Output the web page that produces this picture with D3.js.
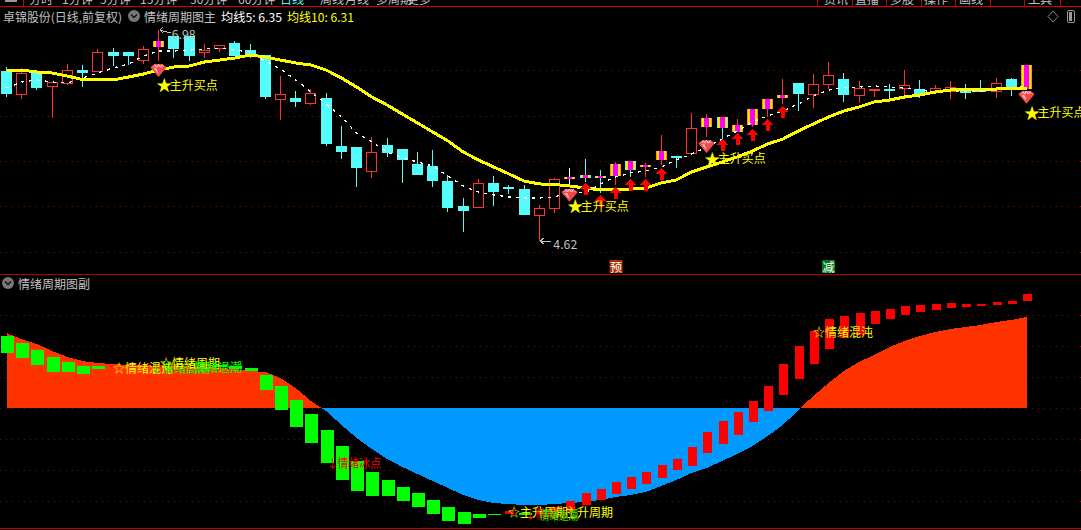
<!DOCTYPE html>
<html><head><meta charset="utf-8">
<script src="https://cdnjs.cloudflare.com/ajax/libs/d3/7.8.5/d3.min.js"></script>
<style>html,body{margin:0;padding:0;background:#000;overflow:hidden}svg{display:block}text{font-family:"Noto Sans CJK SC","Noto Sans",sans-serif}</style>
</head><body><svg id="c" width="1081" height="530"></svg>
<script>
const opens=[6.52,6.25,6.50,6.34,6.38,6.53,6.51,6.73,6.73,6.63,6.79,6.91,6.91,6.72,6.77,6.83,6.76,6.70,6.20,6.22,6.15,6.22,5.68,5.67,5.39,5.69,5.65,5.48,5.46,5.29,5.01,4.99,5.27,5.22,5.20,4.90,4.98,5.31,5.36,5.35,5.35,5.51,5.45,5.53,5.57,5.59,5.90,6.01,5.84,5.92,6.10,6.22,6.39,6.25,6.36,6.43,6.24,6.30,6.32,6.32,6.32,6.28,6.29,6.30,6.31,6.29,6.43,6.32];
const closes=[6.26,6.50,6.33,6.40,6.53,6.50,6.73,6.69,6.69,6.77,6.86,6.77,6.69,6.76,6.81,6.69,6.71,6.23,6.26,6.17,6.28,5.71,5.62,5.44,5.62,5.60,5.53,5.36,5.29,4.99,4.96,5.27,5.17,5.20,4.91,4.99,5.31,5.34,5.33,5.33,5.48,5.41,5.47,5.63,5.56,5.88,6.00,5.88,5.92,6.10,6.21,6.25,6.26,6.38,6.48,6.25,6.33,6.32,6.30,6.36,6.26,6.33,6.34,6.28,6.30,6.39,6.34,6.59];
const highs=[6.57,6.55,6.50,6.40,6.60,6.59,6.77,6.78,6.73,6.80,6.98,6.91,6.91,6.82,6.81,6.86,6.82,6.70,6.47,6.30,6.32,6.28,5.91,5.67,5.78,5.77,5.65,5.62,5.64,5.36,5.10,5.31,5.35,5.25,5.25,5.02,5.33,5.44,5.54,5.41,5.50,5.51,5.49,5.81,5.57,6.05,6.04,6.01,5.98,6.10,6.21,6.43,6.39,6.49,6.62,6.50,6.41,6.32,6.38,6.53,6.42,6.36,6.41,6.38,6.42,6.44,6.44,6.59];
const lows=[6.23,6.21,6.31,6.00,6.36,6.34,6.51,6.58,6.59,6.60,6.63,6.67,6.63,6.67,6.73,6.69,6.67,6.21,5.97,6.12,6.14,5.68,5.54,5.22,5.33,5.56,5.27,5.36,5.22,4.94,4.72,4.99,5.01,5.15,4.91,4.62,4.93,5.22,5.28,5.16,5.25,5.34,5.34,5.47,5.44,5.59,5.78,5.75,5.84,5.90,6.01,6.15,6.07,6.11,6.32,6.17,6.16,6.23,6.21,6.23,6.22,6.28,6.21,6.21,6.29,6.22,6.24,6.32];
const ma5=[6.331,6.398,6.421,6.398,6.387,6.443,6.499,6.555,6.599,6.689,6.745,6.745,6.756,6.767,6.778,6.756,6.734,6.633,6.544,6.421,6.286,6.152,6.007,5.828,5.727,5.616,5.549,5.504,5.459,5.347,5.235,5.168,5.135,5.113,5.101,5.101,5.113,5.168,5.157,5.258,5.336,5.381,5.403,5.448,5.526,5.593,5.672,5.761,5.850,5.951,6.018,6.074,6.152,6.242,6.309,6.331,6.342,6.354,6.342,6.331,6.309,6.286,6.298,6.298,6.298,6.309,6.331,6.354];
const ma10=[6.532,6.532,6.510,6.499,6.465,6.426,6.421,6.421,6.454,6.488,6.532,6.566,6.577,6.622,6.644,6.667,6.700,6.678,6.644,6.611,6.588,6.532,6.443,6.342,6.231,6.141,6.040,5.940,5.839,5.739,5.616,5.526,5.448,5.370,5.291,5.258,5.252,5.235,5.213,5.191,5.191,5.202,5.213,5.269,5.303,5.392,5.448,5.504,5.560,5.627,5.705,5.761,5.850,5.929,6.007,6.074,6.119,6.175,6.197,6.231,6.253,6.286,6.309,6.320,6.320,6.320,6.331,6.331];
const stripedDays=[10,37,38,39,40,41,42,43,46,47,48,49,50,51,67];
const whiteWickDays=[37];
const gemDays=[10,37,46,67];
const gemPrices=[6.53,5.135,5.68,6.23];
const buyLabelPrices=[6.376,5.02,5.55,6.063];
const arrowDays=[38,39,40,41,42,43,47,48,49,50,51];
const arrowPrices=[5.269,5.135,5.224,5.314,5.314,5.437,5.761,5.828,5.873,5.985,6.130];
const gridPrices=[6.53,6.02,5.515,5.01,4.50];
const gridMood=[-93,-62,-31,0,31,62,93];
const moodArea=[75,69,64,57,51,47,45,44,43,43,42,42,41,41,40,39,37,36,30,20,7,-3,-17,-30,-41,-51,-59,-66,-73,-80,-87,-92,-95,-96,-97,-97,-96,-95,-94,-92,-89,-87,-84,-78,-72,-65,-60,-53,-46,-38,-28,-17,-2,12,25,37,46,53,61,67,72,76,79,81,83,86,88,91];
const moodHigh=[72,65,58,51,46,42,42,42,42,43,43,44,44,44,43,42,40,33,22,8,-6,-22,-38,-53,-64,-72,-79,-85,-92,-99,-104,-106,-106,-103,-105,-103,-99,-93,-85,-81,-74,-69,-64,-57,-51,-39,-24,-13,-4,7,22,44,62,77,89,92,95,97,99,102,103,104,105,104,104,106,107,114];
const moodLow=[55,50,43,36,36,34,39,41,41,41,41,42,42,42,41,39,37,18,-2,-19,-35,-55,-72,-83,-88,-88,-93,-99,-106,-113,-116,-110,-107,-106,-107,-106,-105,-105,-97,-92,-86,-81,-76,-70,-62,-58,-45,-36,-27,-14,-3,13,29,44,59,70,73,84,89,93,96,98,100,101,102,103,104,107];
const moodFalling=[0,1,2,3,4,5,6,14,15,16,17,18,19,20,21,22,23,24,25,26,27,28,29,30,31,32,34];
const menuLeft=["分时","1分钟","5分钟","15分钟","30分钟","60分钟","日线","周线","月线","多周期","更多"];
const menuRight=["资讯","直播","多股","操作","画线","","工具",""];

const svg=d3.select("#c");
const W=1081;
const x=d3.scaleLinear().domain([0,67]).range([6.5,1026.5]);
const y=d3.scaleLinear().domain([6.98,4.62]).range([30,241]);
const m=d3.scaleLinear().domain([-120,120]).range([528,288]);
const px=v=>Math.floor(v)+0.5;
const RED="#ff3232",CY="#54fcfc",YEL="#ffff00";
const defs=svg.append("defs");
defs.append("clipPath").attr("id","menu").append("rect").attr("x",0).attr("y",0).attr("width",W).attr("height",5.5);
defs.append("clipPath").attr("id","pos").append("rect").attr("x",0).attr("y",0).attr("width",W).attr("height",m(0));
defs.append("clipPath").attr("id","neg").append("rect").attr("x",0).attr("y",m(0)).attr("width",W).attr("height",530-m(0));

// grids
function grid(scale,vals){
  const g=svg.append("g").attr("transform","translate(1081,0)")
    .call(d3.axisLeft(scale).tickValues(vals).tickSize(W).tickFormat(""));
  g.select(".domain").remove();
  g.selectAll("line").attr("stroke","#8c0000").attr("stroke-width",1).attr("stroke-dasharray","1,5").attr("shape-rendering","crispEdges");
}
grid(y,gridPrices);grid(m,gridMood);

// menu strip
const mg=svg.append("g").attr("clip-path","url(#menu)");
const menuLX=[29,62,100,140,190,238,280,320,345,376,407];
menuLeft.forEach((t,i)=>mg.append("text").attr("x",menuLX[i]).attr("y",4).attr("font-size",12).attr("fill",t==="日线"?"#54fcfc":"#c0c0c0").text(t));
const menuRX=[824,855,890,924,959,994,1028,1064];
menuRight.forEach((t,i)=>mg.append("text").attr("x",menuRX[i]).attr("y",4).attr("font-size",12).attr("fill","#c0c0c0").text(t));
svg.append("rect").attr("x",5).attr("y",0).attr("width",12).attr("height",2).attr("fill","#999");
const lines=[[0,6,W,6,"#d00000"],[23,0,23,6,"#d00000"],[0,274.5,W,274.5,"#b00000"],[0,528,W,528,"#c00000"]];
[817,852,886,921,955,990,1024,1060].forEach(v=>lines.push([v,0,v,6,"#d00000"]));
svg.selectAll("line.frame").data(lines).join("line").attr("class","frame")
 .attr("x1",d=>d[0]).attr("y1",d=>d[1]).attr("x2",d=>d[2]).attr("y2",d=>d[3]).attr("stroke",d=>d[4]).attr("shape-rendering","crispEdges");

// header
function chevron(cx,cy){
  svg.append("circle").attr("cx",cx).attr("cy",cy).attr("r",6).attr("fill","#777");
  svg.append("path").attr("d",`M${cx-3},${cy-1.5}L${cx},${cy+1.5}L${cx+3},${cy-1.5}`).attr("fill","none").attr("stroke","#111").attr("stroke-width",1.4);
}
function label(t,xx,yy,fill,len,size){
  const n=svg.append("text").attr("x",xx).attr("y",yy).attr("font-size",size||12).attr("fill",fill).attr("dominant-baseline","central").text(t);
  if(len) n.attr("textLength",len).attr("lengthAdjust","spacingAndGlyphs");
  return n;
}
label("卓锦股份(日线,前复权)",3,16,"#c0c0c0",119);
chevron(134,16);
label("情绪周期图主",144,16,"#c0c0c0",72);
label("均线5: 6.35",221,16,"#ffffff",61);
label("均线10: 6.31",287,16,YEL,67);
svg.append("path").attr("d","M1053,11L1058,16.5L1053,22L1048,16.5Z").attr("fill","none").attr("stroke","#888");
svg.append("rect").attr("x",1067.5).attr("y",10.5).attr("width",7).attr("height",12).attr("rx",1.5).attr("fill","none").attr("stroke","#999");
svg.append("rect").attr("x",1069).attr("y",12).attr("width",3).attr("height",9).attr("fill","#999");
chevron(8,283);
label("情绪周期图副",18,283,"#c0c0c0",72);

// candles
const days=d3.range(opens.length);
const cg=svg.append("g").attr("shape-rendering","crispEdges");
days.forEach(i=>{
  const cx=x(i),up=closes[i]>opens[i];
  const t=Math.round(y(Math.max(opens[i],closes[i]))),b=Math.round(y(Math.min(opens[i],closes[i])));
  const striped=stripedDays.includes(i);
  const col=up?RED:CY;
  const wc=whiteWickDays.includes(i)?"#ffffff":col;
  cg.append("line").attr("x1",px(cx)).attr("x2",px(cx)).attr("y1",y(highs[i])).attr("y2",y(lows[i])).attr("stroke",wc).attr("stroke-width",1);
  const lx=Math.floor(cx)-5;
  if(striped){
    const h=Math.max(b-t,2);
    const edge=up?"#ff9900":CY;
    const parts=[[0,11,edge],[1,9,"#ffe600"],[3,5,"#ff00ff"]];
    parts.forEach(p=>cg.append("rect").attr("x",lx+p[0]).attr("y",t).attr("width",p[1]).attr("height",h).attr("fill",p[2]));
  } else if(up){
    cg.append("rect").attr("x",lx+.5).attr("y",t+.5).attr("width",10).attr("height",Math.max(b-t-1,1)).attr("fill","#000").attr("stroke",col);
  } else {
    cg.append("rect").attr("x",lx).attr("y",t).attr("width",11).attr("height",Math.max(b-t,2)).attr("fill",col);
  }
});

// moving averages
const ln=d3.line().x((d,i)=>x(i)).y(d=>y(d));
svg.append("path").attr("d",ln(ma5)).attr("fill","none").attr("stroke","#fff").attr("stroke-width",1.3).attr("stroke-dasharray","3,5").attr("shape-rendering","crispEdges");
svg.append("path").attr("d",ln(ma10)).attr("fill","none").attr("stroke",YEL).attr("stroke-width",3).attr("shape-rendering","crispEdges");

// arrows
arrowDays.forEach((d,k)=>{
  const cx=Math.floor(x(d))+.5,t=Math.round(y(arrowPrices[k]));
  svg.append("path").attr("d",`M${cx},${t}L${cx+5.5},${t+6}L${cx+2},${t+6}L${cx+2},${t+12}L${cx-2},${t+12}L${cx-2},${t+6}L${cx-5.5},${t+6}Z`).attr("fill","#ff0000").attr("shape-rendering","crispEdges");
});

// gems
gemDays.forEach((d,k)=>{
  const cx=Math.floor(x(d))+.5,cy=y(gemPrices[k]);
  const g=svg.append("g").attr("transform",`translate(${cx},${cy})`);
  g.append("path").attr("d","M-8,-3L-4,-6L4,-6L8,-3L0,6.5Z").attr("fill","#ff6a6a");
  g.append("path").attr("d","M-8,-3L8,-3L0,6.5Z").attr("fill","#f04848");
  g.append("path").attr("d","M-4,-6L-2,-3L0,-6L2,-3L4,-6").attr("fill","none").attr("stroke","#ffd8d8").attr("stroke-width",.8);
  g.append("path").attr("d","M-5,-2L0,4L-2,-2Z").attr("fill","#ffc0c0");
});

// buy labels
gemDays.forEach((d,k)=>{
  const lx=x(d)-1,ly=y(buyLabelPrices[k]);
  svg.append("text").attr("x",lx-1.5).attr("y",ly).attr("font-size",16).attr("fill",YEL).attr("dominant-baseline","central").text("★");
  label("主升买点",lx+12,ly,YEL,48);
});

// extremes
const iHi=highs.indexOf(d3.max(highs)), iLo=lows.indexOf(d3.min(lows));
svg.append("path").attr("d",`M${x(iHi)+1},${y(highs[iHi])}L${x(iHi)+12},${y(highs[iHi])+3}M${x(iHi)+1},${y(highs[iHi])}L${x(iHi)+4},${y(highs[iHi])-3}M${x(iHi)+1},${y(highs[iHi])}L${x(iHi)+4},${y(highs[iHi])+3}`).attr("fill","none").attr("stroke","#c0c0c0").attr("shape-rendering","crispEdges");
label(d3.format(".2f")(highs[iHi]),x(iHi)+13,y(highs[iHi])+3,"#c0c0c0",24);
svg.append("path").attr("d",`M${x(iLo)+1},${y(lows[iLo])}L${x(iLo)+12},${y(lows[iLo])}M${x(iLo)+1},${y(lows[iLo])}L${x(iLo)+4},${y(lows[iLo])-3}M${x(iLo)+1},${y(lows[iLo])}L${x(iLo)+4},${y(lows[iLo])+3}`).attr("fill","none").attr("stroke","#c0c0c0").attr("shape-rendering","crispEdges");
label(d3.format(".2f")(lows[iLo]),x(iLo)+14,y(lows[iLo])+2,"#c0c0c0",24);

// markers
function badge(t,cx,bg){
  svg.append("rect").attr("x",cx-6.5).attr("y",260).attr("width",13).attr("height",13).attr("fill",bg);
  svg.append("text").attr("x",cx).attr("y",266.5).attr("text-anchor","middle").attr("dominant-baseline","central").attr("font-size",12).attr("fill","#fff").text(t);
}
badge("预",616,"#a83000");
badge("减",828.5,"#007a1a");

// lower area
const area=d3.area().x((d,i)=>x(i)).y0(m(0)).y1(d=>m(d));
svg.append("path").attr("d",area(moodArea)).attr("fill","#ff3300").attr("clip-path","url(#pos)").attr("shape-rendering","crispEdges");
svg.append("path").attr("d",area(moodArea)).attr("fill","#0099ff").attr("clip-path","url(#neg)").attr("shape-rendering","crispEdges");

// lower bars
const bg=svg.append("g").attr("shape-rendering","crispEdges");
days.forEach(i=>{
  const fall=moodFalling.includes(i),w=fall?13:9;
  const t=Math.round(m(moodHigh[i])),b=Math.round(m(moodLow[i]));
  bg.append("rect").attr("x",Math.floor(x(i))+.5-w/2+.5).attr("y",t).attr("width",w).attr("height",Math.max(b-t,1)).attr("fill",fall?"#00ff00":"#ff0000");
});

// lower labels
label("☆情绪混沌",113,367,YEL,60);
label("↓情绪高潮",150,367,"#00ff00",60);
label("☆情绪周期",160,362,YEL,60);
label("情绪退潮",194,366,"#00ff00",48);
label("↓情绪冰点",327,462,"#ff0000",54);
label("☆主升周期",508,511,YEL,60);
label("☆主升周期",553,511,YEL,60);
label("↓情绪冰点",525,513,"#ff0000",54);
label("情绪退潮",540,514,"#00ff00",38);
label("☆情绪混沌",813,331,YEL,60);
</script></body></html>
